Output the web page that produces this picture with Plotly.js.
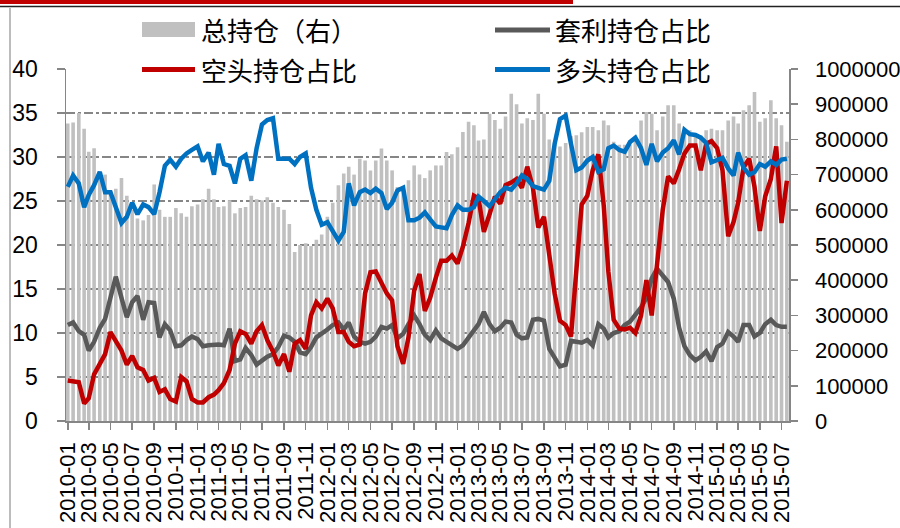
<!DOCTYPE html>
<html><head><meta charset="utf-8">
<script src="https://cdn.plot.ly/plotly-3.0.1.min.js"></script>
<style>html,body{margin:0;padding:0;background:#fff}#chart{width:900px;height:528px}</style>
</head><body><div id="chart"></div>
<script>
// Series names (legend text)
const nameTotal = '总持仓（右）';
const nameArb = '套利持仓占比';
const nameShort = '空头持仓占比';
const nameLong = '多头持仓占比';

// Observation dates: 1st and 16th of each month, 2010-01 .. 2015-07
const dates = [];
for (let y = 2010; y <= 2015; y++) {
  for (let m = 1; m <= 12; m++) {
    if (y === 2015 && m > 7) break;
    const mm = String(m).padStart(2, '0');
    dates.push(y + '-' + mm + '-01', y + '-' + mm + '-16');
  }
}

// 总持仓（右） – total open interest (right axis)
const totalOI = [
  845000,848000,875000,830000,765000,775000,710000,700000,655000,660000,
  690000,640000,600000,575000,570000,585000,672000,600000,580000,580000,
  605000,590000,580000,610000,615000,630000,660000,630000,608000,610000,
  627000,590000,605000,608000,640000,630000,627000,636000,620000,608000,
  600000,560000,480000,500000,505000,497000,515000,530000,580000,620000,
  670000,703000,722000,700000,745000,740000,712000,740000,774000,740000,
  712000,665000,655000,684000,726000,700000,690000,712000,726000,726000,
  764000,758000,778000,821000,850000,840000,797000,800000,873000,855000,
  830000,865000,930000,900000,845000,860000,855000,930000,873000,800000,
  790000,780000,790000,810000,812000,820000,835000,835000,826000,854000,
  840000,793000,785000,785000,785000,800000,854000,878000,873000,826000,
  865000,897000,897000,845000,817000,826000,811000,811000,826000,830000,
  826000,826000,854000,865000,845000,883000,897000,935000,850000,860000,
  911000,860000,840000,793000
];

// 套利持仓占比 (%)
const arbShare = [
  10.9,11.2,10.2,9.8,8.0,9.0,10.6,11.6,14.0,16.4,
  14.0,11.8,13.5,14.2,11.5,13.5,13.4,9.5,11.0,10.3,
  8.5,8.6,9.2,9.6,9.3,8.5,8.6,8.7,8.7,8.6,
  10.5,6.8,7.0,8.3,7.5,6.4,6.9,7.3,7.6,8.4,
  9.7,9.5,9.0,7.8,7.6,8.4,9.5,9.9,10.4,10.9,
  11.2,10.4,11.2,9.6,9.0,8.8,9.0,9.6,10.7,10.5,
  10.9,9.4,9.9,11.0,12.0,11.0,9.8,9.2,10.3,9.4,
  9.0,8.7,8.2,8.6,9.4,10.3,11.0,12.4,11.0,10.2,
  10.6,11.3,11.2,9.8,9.4,9.5,11.5,11.6,11.4,8.2,
  7.3,6.2,6.4,9.1,9.0,8.9,9.2,8.6,11.0,10.5,
  9.5,10.0,10.2,10.9,11.3,12.0,12.9,14.0,16.2,17.3,
  16.5,15.8,13.9,10.6,8.5,7.5,6.9,7.3,7.9,6.8,
  8.4,8.8,10.1,9.6,9.0,10.9,10.9,9.6,10.0,11.0,
  11.5,10.9,10.7,10.7
];

// 空头持仓占比 (%)
const shortShare = [
  4.6,4.5,4.4,2.0,2.6,5.3,6.5,7.6,10.1,9.0,
  8.0,6.4,7.4,6.1,5.8,4.6,4.9,3.3,3.6,2.5,
  2.2,5.0,4.5,2.5,2.1,2.1,2.7,3.0,3.5,4.3,
  5.8,8.8,10.2,9.9,8.8,10.2,10.9,9.2,7.9,6.3,
  7.6,5.6,8.8,9.2,8.2,12.0,13.5,12.8,13.9,12.8,
  10.1,10.1,9.0,8.5,8.7,14.5,16.9,17.0,15.8,14.5,
  13.7,8.5,6.5,9.5,14.8,16.7,12.5,14.0,16.3,18.2,
  18.2,18.8,17.9,19.8,22.5,25.6,25.3,21.5,23.5,25.5,
  24.7,26.8,27.1,27.5,26.5,28.9,26.5,22.0,23.2,18.8,
  14.5,11.4,10.9,9.6,17.0,24.6,25.6,28.5,30.3,24.5,
  17.0,11.5,10.5,10.4,10.6,10.0,12.0,16.0,12.0,17.5,
  24.0,27.8,27.0,28.6,30.4,31.3,31.3,28.5,31.5,31.8,
  31.0,28.5,21.0,22.6,24.8,28.8,29.8,26.6,21.6,25.5,
  27.5,31.2,22.5,27.3
];

// 多头持仓占比 (%)
const longShare = [
  26.6,27.9,27.0,24.3,25.7,26.8,28.3,26.0,26.0,24.2,
  22.5,23.2,24.8,23.5,24.6,24.3,23.5,26.0,29.0,29.7,
  28.9,29.8,30.4,30.8,31.2,29.5,30.5,28.0,31.5,29.2,
  29.0,27.0,29.8,30.2,27.3,31.0,33.7,34.2,34.4,29.8,
  29.8,29.8,29.2,30.0,30.4,26.5,24.0,22.3,22.6,21.5,
  20.5,21.5,27.0,24.5,26.0,26.3,25.9,26.4,25.9,24.1,
  24.8,26.2,26.5,22.8,22.8,23.1,23.7,22.9,22.1,22.0,
  21.9,23.4,24.5,24.0,24.0,24.3,25.5,25.0,24.4,25.2,
  26.0,26.5,26.3,27.0,27.9,27.5,26.7,26.5,26.3,27.3,
  31.5,34.3,34.7,31.5,28.5,28.8,29.6,30.0,28.3,28.6,
  31.0,31.3,30.8,30.6,31.7,32.2,31.0,29.1,31.5,29.5,
  30.5,31.0,31.9,30.3,33.1,32.6,32.5,32.2,31.6,29.4,
  29.6,29.9,28.7,27.9,30.5,28.8,28.0,28.3,29.2,28.9,
  29.5,29.1,29.7,29.8
];

const colTotal = '#C0C0C0', colArb = '#595959', colShort = '#C00000', colLong = '#0070C0';

// plot area in pixels (for decoration placement)
const W = 900, H = 528, L = 66, R = 111, T = 69, B = 107;
const PW = W - L - R, PH = H - T - B;
const px = x => (x - L) / PW;
const py = y => (H - B - y) / PH;

const traces = [
  {type: 'bar', name: nameTotal, x: dates, y: totalOI, yaxis: 'y',
   marker: {color: colTotal, line: {width: 0}}, showlegend: false, hoverinfo: 'skip'},
  {type: 'scatter', mode: 'lines', name: nameArb, x: dates, y: arbShare, yaxis: 'y2',
   line: {color: colArb, width: 4.5}, showlegend: false},
  {type: 'scatter', mode: 'lines', name: nameShort, x: dates, y: shortShare, yaxis: 'y2',
   line: {color: colShort, width: 4.5}, showlegend: false},
  {type: 'scatter', mode: 'lines', name: nameLong, x: dates, y: longShare, yaxis: 'y2',
   line: {color: colLong, width: 4.5}, showlegend: false}
];

const tickFont = {family: 'Liberation Sans, Arial, sans-serif', size: 22, color: '#000'};
const legFont = {family: 'Noto Sans CJK SC, sans-serif', size: 26, color: '#000'};

const layout = {
  width: W, height: H,
  margin: {l: L, r: R, t: T, b: B, pad: 0},
  paper_bgcolor: '#fff', plot_bgcolor: 'rgba(0,0,0,0)',
  bargap: 0.22,
  showlegend: false,
  xaxis: {
    type: 'date', range: ['2009-12-27', '2015-07-22'],
    tick0: '2010-01-01', dtick: 'M2', tickformat: '%Y-%m', tickangle: -90,
    showgrid: false, zeroline: false,
    showline: true, linecolor: '#868686', linewidth: 1.5,
    ticks: 'outside', ticklen: 7, tickcolor: '#868686', tickwidth: 1.5,
    tickfont: {family: 'Liberation Sans, Arial, sans-serif', size: 22, color: '#000'},
    ticklabelstandoff: 4
  },
  yaxis: {
    side: 'right', range: [0, 1000000], tickvals: [0,100000,200000,300000,400000,500000,600000,700000,800000,900000,1000000],
    tickformat: 'd', showgrid: false, zeroline: false,
    showline: true, linecolor: '#868686', linewidth: 1.5,
    ticks: 'outside', ticklen: 7, tickcolor: '#868686', tickwidth: 1.5,
    tickfont: tickFont, ticklabelstandoff: 13
  },
  yaxis2: {
    overlaying: 'y', side: 'left', range: [0, 40], dtick: 5, tick0: 0,
    showgrid: true, gridcolor: '#868686', gridwidth: 1.2, griddash: 'dashdot',
    zeroline: false, showline: true, linecolor: '#868686', linewidth: 1.5,
    ticks: 'outside', ticklen: 8, tickcolor: '#868686', tickwidth: 1.5,
    tickfont: {family: 'Liberation Sans, Arial, sans-serif', size: 23, color: '#000'}, ticklabelstandoff: 14
  },
  shapes: [
    // frame decoration
    {type: 'rect', xref: 'paper', yref: 'paper', x0: px(0), x1: px(573), y0: py(0), y1: py(4), fillcolor: '#C00000', line: {width: 0}, layer: 'above'},
    {type: 'line', xref: 'paper', yref: 'paper', x0: px(0), x1: px(900), y0: py(6.5), y1: py(6.5), line: {color: '#222', width: 1.5}},
    {type: 'line', xref: 'paper', yref: 'paper', x0: px(10), x1: px(10), y0: py(8), y1: py(528), line: {color: '#A6A6A6', width: 1.5}},
    // legend keys
    {type: 'rect', xref: 'paper', yref: 'paper', x0: px(142), x1: px(195), y0: py(37), y1: py(22), fillcolor: colTotal, line: {width: 0}},
    {type: 'line', xref: 'paper', yref: 'paper', x0: px(495), x1: px(550), y0: py(30), y1: py(30), line: {color: colArb, width: 5}},
    {type: 'line', xref: 'paper', yref: 'paper', x0: px(142), x1: px(195), y0: py(69.5), y1: py(69.5), line: {color: colShort, width: 5}},
    {type: 'line', xref: 'paper', yref: 'paper', x0: px(495), x1: px(550), y0: py(69.5), y1: py(69.5), line: {color: colLong, width: 5}}
  ],
  annotations: [
    {text: nameTotal, xref: 'paper', yref: 'paper', x: px(199), y: py(30), xanchor: 'left', yanchor: 'middle', showarrow: false, font: legFont},
    {text: nameArb, xref: 'paper', yref: 'paper', x: px(553), y: py(30), xanchor: 'left', yanchor: 'middle', showarrow: false, font: legFont},
    {text: nameShort, xref: 'paper', yref: 'paper', x: px(199), y: py(70), xanchor: 'left', yanchor: 'middle', showarrow: false, font: legFont},
    {text: nameLong, xref: 'paper', yref: 'paper', x: px(553), y: py(70), xanchor: 'left', yanchor: 'middle', showarrow: false, font: legFont}
  ]
};

Plotly.newPlot('chart', traces, layout, {staticPlot: true, displayModeBar: false});
</script>
</body></html>
